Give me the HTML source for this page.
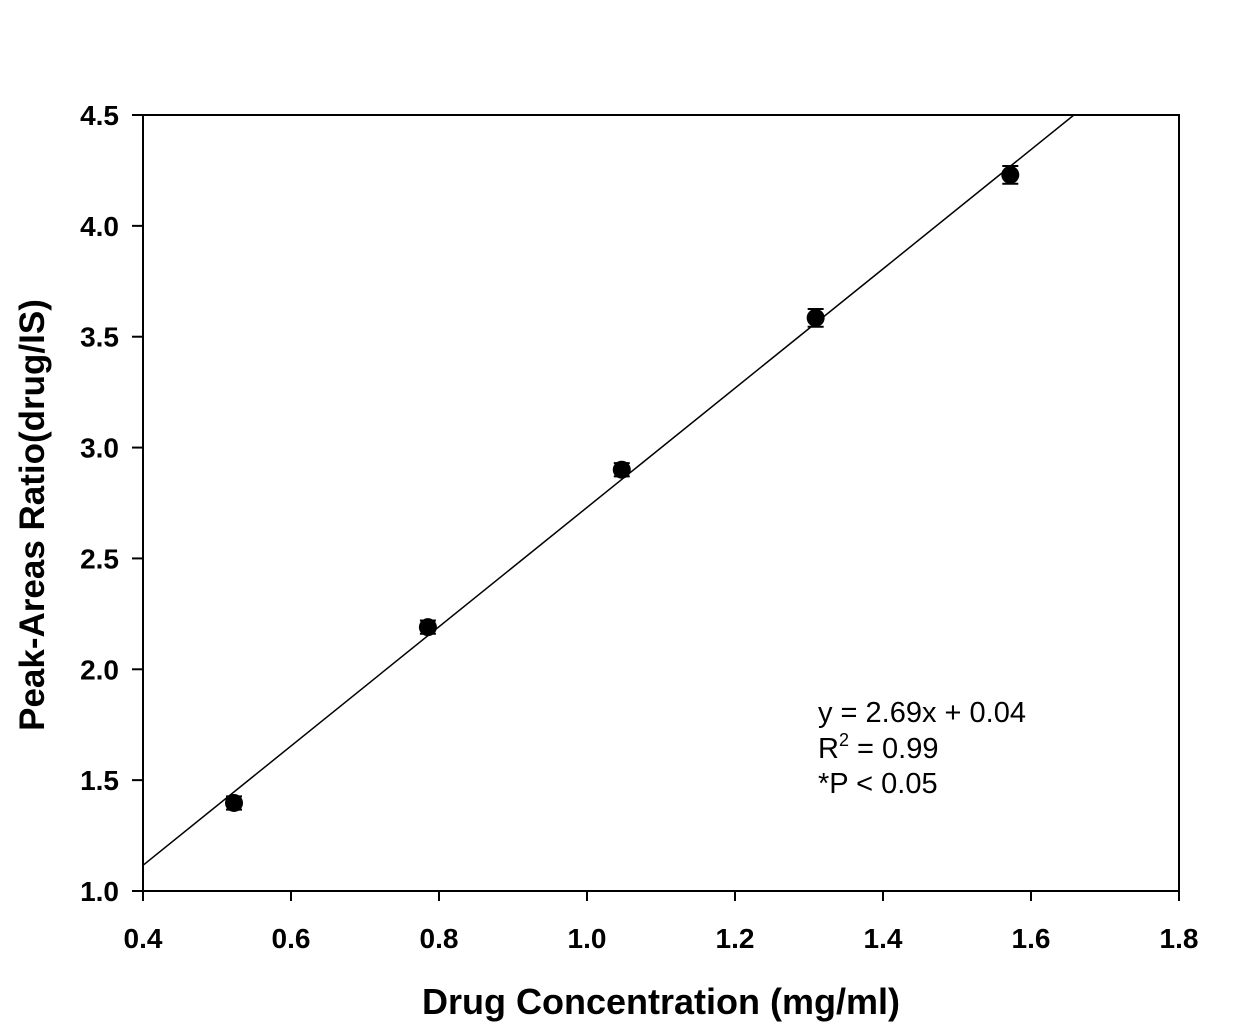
<!DOCTYPE html>
<html><head><meta charset="utf-8"><style>
body{margin:0;background:#fff}
svg text{font-family:"Liberation Sans",Arial,sans-serif}
</style></head><body>
<svg width="1238" height="1027" xmlns="http://www.w3.org/2000/svg">
<g id="axes"></g><g id="marks"></g>
<text x="661" y="1014" text-anchor="middle" font-size="36" font-weight="bold">Drug Concentration (mg/ml)</text>
<text transform="translate(44,515) rotate(-90)" text-anchor="middle" font-size="35" font-weight="bold">Peak-Areas Ratio(drug/IS)</text>
<g font-size="29">
<text x="818" y="722">y = 2.69x + 0.04</text>
<text x="818" y="758">R<tspan dy="-12" font-size="18">2</tspan><tspan dy="12"> = 0.99</tspan></text>
<text x="818" y="793">*P &lt; 0.05</text>
</g>
</svg>
<script>
const xTicks=[0.4,0.6,0.8,1.0,1.2,1.4,1.6,1.8];
const yTicks=[1.0,1.5,2.0,2.5,3.0,3.5,4.0,4.5];
const concentrations=[0.523,0.785,1.047,1.309,1.572];
const ratios=[1.397,2.19,2.90,3.585,4.23];
const errors=[0.03,0.03,0.03,0.04,0.04];
const slope=2.69, intercept=0.04;
const L=143,R=1179,T=115,B=891;
const sx=v=>L+(v-0.4)/1.4*(R-L);
const sy=v=>B-(v-1.0)/3.5*(B-T);
const NS='http://www.w3.org/2000/svg';
function mk(tag,attrs,parent){const e=document.createElementNS(NS,tag);for(const k in attrs)e.setAttribute(k,attrs[k]);parent.appendChild(e);return e;}
const ax=document.getElementById('axes'),mg=document.getElementById('marks');
const frame=mk('rect',{x:L,y:T,width:R-L,height:B-T,fill:'none',stroke:'#000','stroke-width':2},ax);


xTicks.forEach(v=>{
 const t=mk('line',{x1:sx(v),x2:sx(v),y1:B,y2:B+10,stroke:'#000','stroke-width':2},ax);
 
 
 const l=mk('text',{x:sx(v),y:B+57,'text-anchor':'middle','font-size':28,'font-weight':'bold'},ax);
 l.textContent=v.toFixed(1);
 
 
});
yTicks.forEach(v=>{
 const t=mk('line',{x1:L-11,x2:L,y1:sy(v),y2:sy(v),stroke:'#000','stroke-width':2},ax);
 
 
 const l=mk('text',{x:L-24,y:sy(v)+10,'text-anchor':'end','font-size':28,'font-weight':'bold'},ax);
 l.textContent=v.toFixed(1);
 
 
});
const x0=0.4, x1=(4.5-intercept)/slope;
const fit=mk('line',{x1:sx(x0),y1:sy(slope*x0+intercept),x2:sx(x1),y2:sy(4.5),stroke:'#000','stroke-width':1.5},mg);


concentrations.forEach((c,i)=>{
 const e=mk('path',{d:`M${sx(c)-8},${sy(ratios[i]+errors[i])}h16M${sx(c)},${sy(ratios[i]+errors[i])}V${sy(ratios[i]-errors[i])}M${sx(c)-8},${sy(ratios[i]-errors[i])}h16`,stroke:'#000','stroke-width':2,fill:'none'},mg);
 
 
 const p=mk('circle',{cx:sx(c),cy:sy(ratios[i]),r:9,fill:'#000'},mg);
 
 
});
</script>
</body></html>
